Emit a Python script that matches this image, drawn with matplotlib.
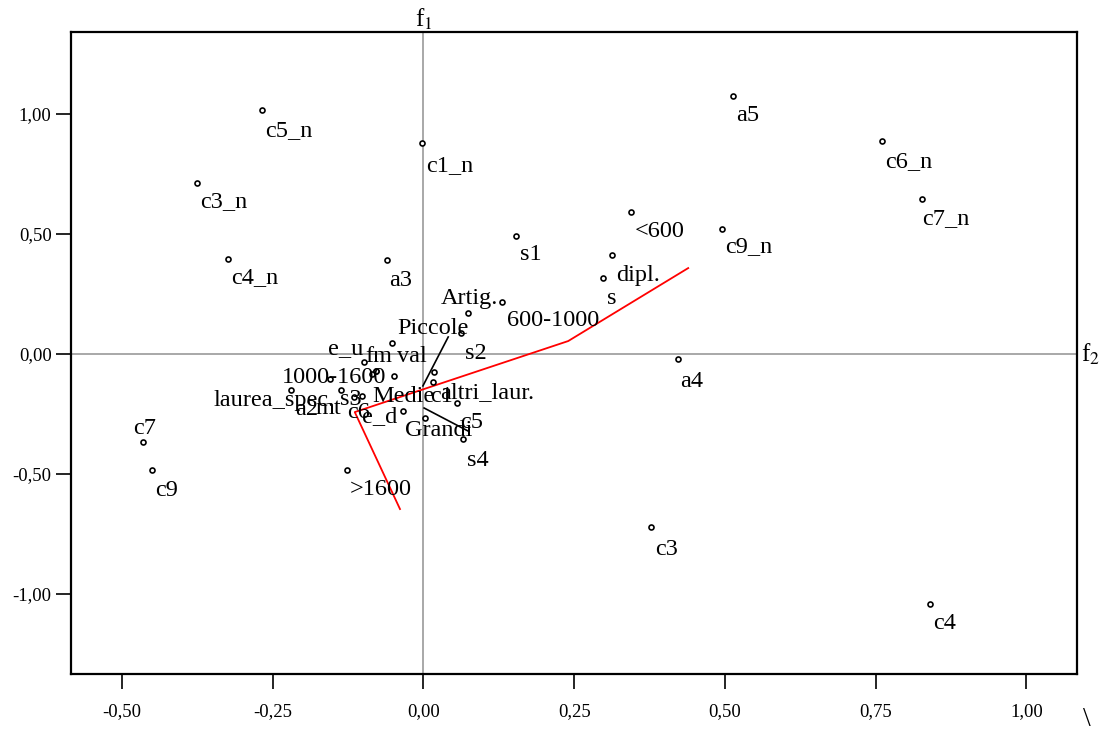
import matplotlib.pyplot as plt
import numpy as np

plt.rcParams['font.family'] = ['Liberation Serif', 'DejaVu Serif']
plt.rcParams['mathtext.fontset'] = 'stix'

# point coordinates (f2 on x, f1 on y)
labels = ['c5_n', 'a5', 'c1_n', 'c6_n', 'c3_n', 'c7_n', '<600', 'c9_n', 's1', 'dipl.',
          'c4_n', 'a3', 's', 'a4', 'c3', 'c4', 'c7', 'c9', '>1600',
          '600-1000', 'Artig.', 's2', 'Piccole', 'e_u', 'fm', 'val', '1000-1600',
          'laurea_spec.', 'a2', 'mt', 's3', 'c6', 'e_d', 'Medie', 'c1', 'altri_laur.',
          'Grandi', 'c5', 's4']
f2 = [-0.268, 0.513, -0.002, 0.760, -0.376, 0.827, 0.344, 0.495, 0.153, 0.312,
      -0.324, -0.061, 0.298, 0.422, 0.377, 0.840, -0.465, -0.450, -0.127,
      0.130, 0.074, 0.062, -0.052, -0.099, -0.079, -0.049, -0.155,
      -0.220, -0.137, -0.115, -0.102, -0.085, -0.078, -0.034, 0.002, 0.017,
      0.016, 0.056, 0.066]
f1 = [1.017, 1.075, 0.879, 0.888, 0.713, 0.646, 0.592, 0.521, 0.492, 0.413,
      0.396, 0.392, 0.317, -0.021, -0.721, -1.042, -0.367, -0.483, -0.483,
      0.217, 0.171, 0.088, 0.046, -0.033, -0.071, -0.092, -0.104,
      -0.150, -0.150, -0.179, -0.175, -0.083, -0.071, -0.238, -0.267, -0.075,
      -0.117, -0.204, -0.354]

# trajectory lines
red_x = [-0.039, -0.114, 0.240, 0.439]
red_y = [-0.646, -0.242, 0.054, 0.358]
blk1_x = [0.041, -0.001]
blk1_y = [0.071, -0.133]
blk2_x = [0.001, 0.074]
blk2_y = [-0.225, -0.321]

xticks = [-0.50, -0.25, 0.00, 0.25, 0.50, 0.75, 1.00]
yticks = [-1.00, -0.50, 0.00, 0.50, 1.00]

# label offsets in pixels (left edge, vertical centre) relative to the dot
offsets = {
    'c5_n': (3, -21), 'a5': (3, -19), 'c1_n': (4, -22), 'c6_n': (3, -21),
    'c3_n': (3, -19), 'c7_n': (0, -20), '<600': (4, -20), 'c9_n': (3, -18),
    's1': (4, -19), 'dipl.': (4, -21), 'c4_n': (3, -19), 'a3': (2, -21),
    's': (4, -21), 'a4': (2, -22), 'c3': (4, -22), 'c4': (3, -19),
    'c7': (-10, 14), 'c9': (3, -21), '>1600': (3, -20),
    '600-1000': (5, -19), 'Artig.': (-27, 14), 's2': (4, -21),
    'Piccole': (5, 14), 'e_u': (-36, 13), 'fm': (-11, 15), 'val': (3, 20),
    '1000-1600': (-48, 1), 'laurea_spec.': (-77, -10), 'a2': (-46, -19),
    'mt': (-39, -12), 's3': (-22, -3), 'c6': (-25, -39), 'e_d': (-14, -45),
    'Medie': (-31, 15), 'c1': (5, 22), 'altri_laur.': (6, -21),
    'Grandi': (-28, -48), 'c5': (3, -20), 's4': (4, -22),
}

fig = plt.figure(figsize=(11.03, 7.34), dpi=100)
ax = fig.add_axes([71 / 1103, 60 / 734, 1006 / 1103, 642 / 734])

ax.axhline(0, color='#999999', lw=1.2, zorder=1)
ax.axvline(0, color='#999999', lw=1.2, zorder=1)

ax.plot(red_x, red_y, color='red', lw=1.3, zorder=2)
ax.plot(blk1_x, blk1_y, color='black', lw=1.2, zorder=2)
ax.plot(blk2_x, blk2_y, color='black', lw=1.2, zorder=2)

ax.plot(f2, f1, 'o', ms=3.6, mfc='white', mec='black', mew=1.2, ls='none', zorder=3)

for lab, x, y in zip(labels, f2, f1):
    dx, dy = offsets[lab]
    ax.annotate(lab, (x, y), xytext=(dx, dy), textcoords='offset pixels',
                ha='left', va='center', fontsize=17.5, zorder=4)

ax.set_xlim(-0.5846, 1.0838)
ax.set_ylim(-1.3333, 1.3417)
ax.set_xticks(xticks)
ax.set_yticks(yticks)
ax.set_xticklabels([f'{v:.2f}'.replace('.', ',') for v in xticks])
ax.set_yticklabels([f'{v:.2f}'.replace('.', ',') for v in yticks])
ax.tick_params(axis='both', direction='out', length=11, width=1.2, labelsize=13.5)
ax.tick_params(axis='x', pad=10)
ax.tick_params(axis='y', pad=3)
for sp in ax.spines.values():
    sp.set_linewidth(1.6)

ax.text(0, 1.0, 'f$_1$', transform=ax.get_xaxis_transform(), ha='center', va='bottom',
        fontsize=18)
ax.text(1.004, 0, 'f$_2$', transform=ax.get_yaxis_transform(), ha='left', va='center',
        fontsize=18)
fig.text(1087 / 1103, 1 - 719 / 734, '\\', fontsize=20, ha='center', va='center')

fig.savefig('out.png', dpi=100)
